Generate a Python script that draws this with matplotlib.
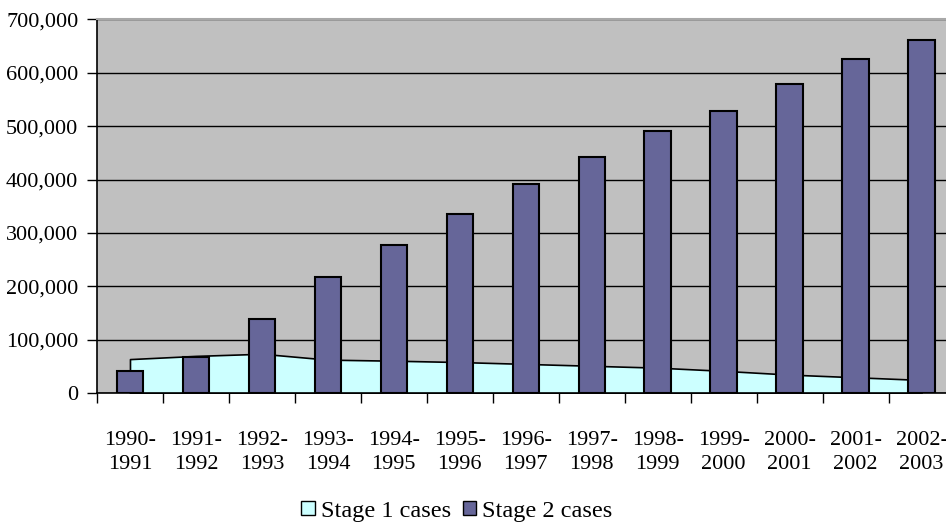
import numpy as np
import matplotlib
matplotlib.use("Agg")
import matplotlib.pyplot as plt
from matplotlib.patches import Patch
from matplotlib.ticker import FuncFormatter

# case counts per financial year
years = ["1990-\n1991", "1991-\n1992", "1992-\n1993", "1993-\n1994", "1994-\n1995",
         "1995-\n1996", "1996-\n1997", "1997-\n1998", "1998-\n1999", "1999-\n2000",
         "2000-\n2001", "2001-\n2002", "2002-\n2003"]
stage1 = [64000, 70000, 74000, 63000, 61000, 58500, 55000, 51500, 48000, 42000,
          35000, 30000, 25000]
stage2 = [41000, 68000, 139000, 217000, 277000, 335000, 392000, 443000, 491000,
          528000, 578000, 626000, 662000]

plt.rcParams['font.family'] = ['Liberation Serif', 'DejaVu Serif']
plt.rcParams['font.size'] = 16

fig = plt.figure(figsize=(9.46, 5.25), dpi=100)
ax = fig.add_axes([97 / 946, 1 - 393.3 / 525, (954.5 - 97) / 946, (393.3 - 19.3) / 525])
ax.set_facecolor('#c0c0c0')

x = np.arange(len(years))
ax.fill_between(x, stage1, 0, facecolor='#ccffff', edgecolor='black', linewidth=1.2, zorder=2)
ax.bar(x, stage2, width=0.4, color='#666699', edgecolor='black', linewidth=1.5, zorder=3)

ax.set_xlim(-0.5, len(years) - 0.5)
ax.set_ylim(0, 700000)
ax.set_yticks(np.arange(0, 700001, 100000))
ax.yaxis.set_major_formatter(FuncFormatter(lambda v, p: f"{int(v):,}"))
ax.grid(axis='y', color='black', linewidth=1)
ax.set_axisbelow(True)

# labels sit under each category, tick marks on the category boundaries
ax.set_xticks(x)
ax.set_xticklabels(years, linespacing=1.38)
ax.set_xticks(np.arange(-0.5, len(years), 1), minor=True)
ax.tick_params(axis='x', which='major', length=0, pad=27)
ax.tick_params(axis='x', which='minor', length=7, width=1, direction='out')
ax.tick_params(axis='y', length=7, width=1, pad=6.5, direction='out')

for s in ['left', 'bottom']:
    ax.spines[s].set_color('black')
    ax.spines[s].set_linewidth(1.2)
ax.spines['top'].set_color('#a8a8a8')
ax.spines['top'].set_linewidth(1.5)
ax.spines['right'].set_visible(False)

handles = [Patch(facecolor='#ccffff', edgecolor='black', linewidth=1),
           Patch(facecolor='#666699', edgecolor='black', linewidth=1)]
fig.legend(handles, ['Stage 1 cases', 'Stage 2 cases'], loc='center',
           bbox_to_anchor=(457 / 946, 1 - 511 / 525), ncol=2, frameon=False,
           handlelength=0.55, handleheight=0.55, handletextpad=0.25,
           columnspacing=0.5, fontsize=17.5)

fig.savefig('out.png', dpi=100)
